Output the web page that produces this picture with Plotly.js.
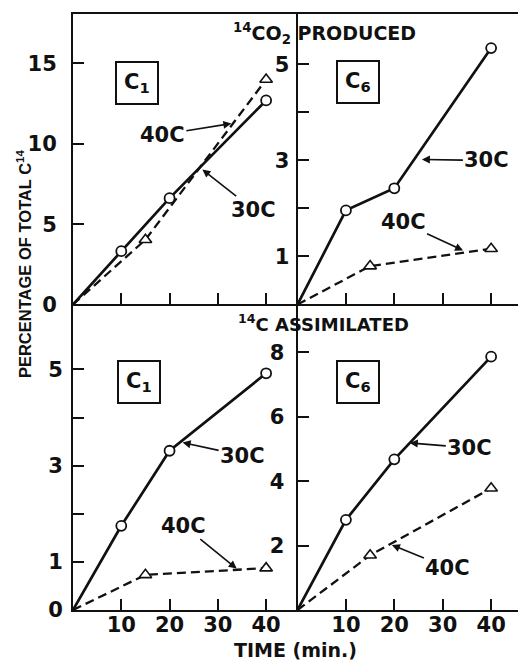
<!DOCTYPE html>
<html><head><meta charset="utf-8">
<script src="https://cdn.plot.ly/plotly-3.0.1.min.js"></script>
<style>html,body{margin:0;padding:0;background:#fff}</style>
</head><body><div id="chart" style="width:518px;height:665px"></div>
<script>
// ---- data ----
const timeCirc = [0, 10, 20, 40];      // minutes, 30C samples
const timeTri  = [0, 15, 40];          // minutes, 40C samples
const co2C1_30 = [0, 3.32, 6.62, 12.7];
const co2C1_40 = [0, 4.03, 14.0];
const co2C6_30 = [0, 1.96, 2.42, 5.34];
const co2C6_40 = [0, 0.80, 1.16];
const asmC1_30 = [0, 1.75, 3.31, 4.92];
const asmC1_40 = [0, 0.73, 0.87];
const asmC6_30 = [0, 2.80, 4.68, 7.87];
const asmC6_40 = [0, 1.70, 3.78];
const xTicks = [10, 20, 30, 40];
const yTicksTL = [0, 5, 10, 15];
const yTicksTR = [1, 2, 3, 4, 5];
const yTextTR  = ['1', '', '3', '', '5'];
const yTicksBL = [0, 1, 2, 3, 4, 5];
const yTextBL  = ['0', '1', '', '3', '', '5'];
const yTicksBR = [2, 4, 6, 8];

const INK = '#111';
const F = 'DejaVu Sans';

function solid(x, y, xa, ya) {
  return {x: x, y: y, xaxis: xa, yaxis: ya, type: 'scatter', mode: 'lines+markers',
    line: {color: INK, width: 2.7},
    marker: {symbol: 'circle', size: 10, color: 'white', opacity: x.map(v => v === 0 ? 0 : 1),
             line: {color: INK, width: 1.8}},
    cliponaxis: false, showlegend: false, hoverinfo: 'skip'};
}
function dashed(x, y, xa, ya) {
  return {x: x, y: y, xaxis: xa, yaxis: ya, type: 'scatter', mode: 'lines+markers',
    line: {color: INK, width: 2.3, dash: '9px,5px'},
    marker: {symbol: 'triangle-up', size: 11, color: 'white', opacity: x.map(v => v === 0 ? 0 : 1),
             line: {color: INK, width: 1.6}},
    cliponaxis: false, showlegend: false, hoverinfo: 'skip'};
}

const data = [
  dashed(timeTri, co2C1_40, 'x', 'y'),   solid(timeCirc, co2C1_30, 'x', 'y'),
  dashed(timeTri, co2C6_40, 'x2', 'y2'), solid(timeCirc, co2C6_30, 'x2', 'y2'),
  dashed(timeTri, asmC1_40, 'x3', 'y3'), solid(timeCirc, asmC1_30, 'x3', 'y3'),
  dashed(timeTri, asmC6_40, 'x4', 'y4'), solid(timeCirc, asmC6_30, 'x4', 'y4')
];

const tickFont = {family: F, size: 21, color: INK, weight: 700};
function ax(extra) {
  return Object.assign({showline: true, linecolor: INK, linewidth: 2, ticks: 'inside',
    ticklen: 11, tickwidth: 2, tickcolor: INK, showgrid: false, zeroline: false,
    tickfont: tickFont, fixedrange: true}, extra);
}
const DL = [0, 0.5045], DR = [0.5045, 1], DT = [0.5126, 1], DB = [0, 0.5126];

const lblFont = {family: F, size: 21, color: INK, weight: 700};
function arrowLbl(text, xa, ya, x, y, axp, ayp) {
  return {text: text, xref: xa, yref: ya, x: x, y: y, ax: axp, ay: ayp,
    xanchor: 'center', yanchor: 'middle',
    showarrow: true, arrowhead: 2, arrowsize: 1, arrowwidth: 1.6, arrowcolor: INK,
    font: lblFont};
}
function boxLbl(sub, xa, ya, x, y) {
  return {text: 'C<sub>' + sub + '</sub>', xref: xa, yref: ya, x: x, y: y, showarrow: false,
    xanchor: 'center', yanchor: 'middle',
    bordercolor: INK, borderwidth: 2, borderpad: 7, bgcolor: 'white',
    font: {family: F, size: 21, color: INK, weight: 700}};
}
function paperText(text, x, y, size, extra) {
  return Object.assign({text: text, xref: 'paper', yref: 'paper', x: x, y: y,
    xanchor: 'center', yanchor: 'middle', showarrow: false,
    font: {family: F, size: size, color: INK, weight: 700}}, extra || {});
}

const layout = {
  width: 518, height: 665,
  margin: {l: 73, r: 0, t: 14, b: 55},
  paper_bgcolor: 'white', plot_bgcolor: 'white',
  showlegend: false,
  xaxis:  ax({domain: DL, anchor: 'y',  range: [0, 46.5], tickvals: xTicks, showticklabels: false, mirror: true}),
  yaxis:  ax({domain: DT, anchor: 'x',  range: [0, 18.08], tickvals: yTicksTL, ticklabelstandoff: 10}),
  xaxis2: ax({domain: DR, anchor: 'y2', range: [0, 45.55], tickvals: xTicks, showticklabels: false, mirror: true}),
  yaxis2: ax({domain: DT, anchor: 'x2', range: [0, 6.05], tickvals: yTicksTR, ticktext: yTextTR, ticklabelstandoff: 2}),
  xaxis3: ax({domain: DL, anchor: 'y3', range: [0, 46.5], tickvals: xTicks, ticklabelstandoff: -5}),
  yaxis3: ax({domain: DB, anchor: 'x3', range: [0, 6.35], tickvals: yTicksBL, ticktext: yTextBL, ticklabelstandoff: 4}),
  xaxis4: ax({domain: DR, anchor: 'y4', range: [0, 45.55], tickvals: xTicks, ticklabelstandoff: -5}),
  yaxis4: ax({domain: DB, anchor: 'x4', range: [0, 9.49], tickvals: yTicksBR, ticklabelstandoff: 7}),
  annotations: [
    paperText('<sup>14</sup>CO<sub>2</sub> PRODUCED', 0.566, 0.968, 19),
    paperText('<sup>14</sup>C ASSIMILATED', 0.562, 0.4815, 18),
    paperText('TIME (min.)', 0.501, -0.067, 19),
    paperText('PERCENTAGE OF TOTAL C<sup>14</sup>', -0.110, 0.5805, 17,
      {textangle: -90, font: {family: 'Liberation Sans', size: 16.5, color: INK, weight: 700}}),
    boxLbl('1', 'x', 'y', 13.35, 13.8),
    boxLbl('6', 'x2', 'y2', 12.6, 4.63),
    boxLbl('1', 'x3', 'y3', 13.6, 4.73),
    boxLbl('6', 'x4', 'y4', 12.6, 7.08),
    arrowLbl('40C', 'x', 'y', 32.8, 11.26, -69, 11),
    arrowLbl('30C', 'x', 'y', 26.8, 8.4, 51, 40),
    arrowLbl('30C', 'x2', 'y2', 25.7, 3.02, 65, 1),
    arrowLbl('40C', 'x2', 'y2', 34.2, 1.125, -60, -28),
    arrowLbl('30C', 'x3', 'y3', 22.7, 3.48, 60, 13),
    arrowLbl('40C', 'x3', 'y3', 33.9, 0.86, -53, -43),
    arrowLbl('30C', 'x4', 'y4', 23.2, 5.19, 60, 5),
    arrowLbl('40C', 'x4', 'y4', 19.5, 2.02, 56, 23)
  ]
};

Plotly.newPlot('chart', data, layout, {staticPlot: true, displayModeBar: false});
</script></body></html>
